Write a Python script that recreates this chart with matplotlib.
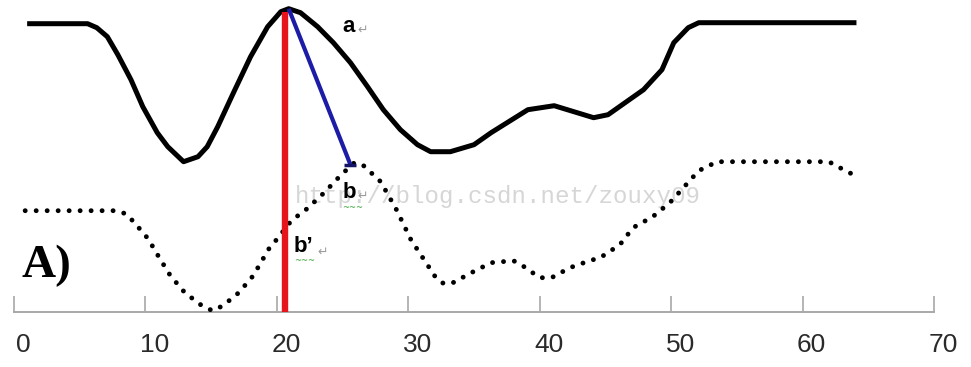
import matplotlib
matplotlib.use('Agg')
import matplotlib.pyplot as plt
import matplotlib.transforms as mtransforms

# solid curve (a)
solid_x = [1.0, 5.6, 6.3, 7.1, 7.9, 8.9, 9.8, 10.9, 11.7, 12.9, 14.0, 14.7, 15.5, 16.7,
           18.0, 19.3, 20.3, 20.9, 21.8, 23.1, 24.3, 25.6, 26.9, 28.1, 29.4, 30.7, 31.7,
           33.2, 35.0, 36.3, 39.1, 41.1, 44.1, 45.2, 47.9, 49.3, 50.2, 51.3, 52.1, 64.1]
solid_y = [28.8, 28.8, 28.4, 27.5, 25.7, 23.2, 20.5, 17.9, 16.5, 15.0, 15.5, 16.5, 18.5, 21.9,
           25.5, 28.5, 30.0, 30.3, 29.9, 28.5, 26.9, 24.9, 22.5, 20.2, 18.2, 16.7, 16.0,
           16.0, 16.7, 17.9, 20.2, 20.6, 19.4, 19.7, 22.2, 24.2, 26.9, 28.4, 28.9, 28.9]

# dotted curve (b)
dot_x = [0.85, 7.7, 8.5, 9.1, 10.2, 11.1, 11.9, 13.0, 13.7, 14.3, 15.1, 15.9, 17.1, 18.2,
         19.4, 20.1, 21.1, 22.3, 23.6, 24.9, 25.9, 26.6, 27.9, 29.1, 30.2, 31.2, 32.1, 32.7,
         33.4, 34.8, 36.3, 38.0, 38.7, 40.0, 40.9, 42.3, 43.8, 44.6, 46.1, 47.1, 48.6, 49.9,
         51.0, 52.1, 53.5, 62.0, 63.4, 64.2]
dot_y = [10.1, 10.1, 9.8, 9.0, 7.3, 5.3, 3.6, 1.9, 1.2, 0.6, 0.1, 0.6, 1.9, 3.6,
         6.3, 7.4, 9.1, 10.3, 11.9, 13.7, 14.9, 14.6, 13.0, 10.2, 7.2, 5.2, 3.4, 2.8,
         2.9, 3.9, 4.9, 5.1, 4.6, 3.4, 3.4, 4.4, 5.1, 5.4, 6.7, 8.4, 9.5, 10.9,
         12.5, 14.1, 15.0, 15.0, 14.0, 13.5]

# vertical (red) and slanted (blue) connections
red_x = [20.6, 20.6]
red_y = [0.0, 30.0]
blue_x = [20.9, 25.6]
blue_y = [30.3, 14.7]

xticks = [0, 10, 20, 30, 40, 50, 60, 70]

fig = plt.figure(figsize=(9.71, 3.67), dpi=100)
ax = fig.add_axes([14 / 971, 1 - 311.7 / 367, 920 / 971, 311.7 / 367])
ax.set_xlim(0, 70)
ax.set_ylim(0, 31.17)

ax.plot(solid_x, solid_y, color='black', lw=3.6, solid_joinstyle='round',
        solid_capstyle='butt', clip_on=False, zorder=3)
ax.plot(dot_x, dot_y, color='black', lw=3.5, linestyle=(0, (0.01, 2.25)),
        dash_capstyle='round', clip_on=False, zorder=3)
ax.plot(red_x, red_y, color='#e8141b', lw=4.6, solid_capstyle='butt', zorder=4, clip_on=False)
ax.plot(blue_x, blue_y, color='#1c1ca6', lw=3.0, solid_capstyle='butt', zorder=5, clip_on=False)
ax.plot(blue_x[-1:], blue_y[-1:], marker='_', color='#141466', ms=9, mew=2.5, zorder=5)

# watermark
ax.text(21.4, 11.5, 'http://blog.csdn.net/zouxy09', family='Liberation Mono',
        fontsize=17.4, color='#d6d6d6', va='center', ha='left', zorder=1)

# labels
lab = dict(family='Liberation Sans', fontweight='bold', fontsize=16, va='center', zorder=6)
ax.text(25.0, 28.5, 'a', ha='left', **lab)
ax.text(25.0, 11.9, 'b', ha='left', **lab)
ax.text(21.3, 6.5, 'b’', ha='left', **lab)
ret = dict(family='DejaVu Sans', fontsize=9, color='#9a9a9a', va='center', ha='left', zorder=6)
ax.text(26.15, 28.2, '↵', **ret)
ax.text(26.15, 11.6, '↵', **ret)
ax.text(23.1, 6.0, '↵', **ret)
wav = dict(family='DejaVu Sans', fontsize=6, color='#3fa63f', va='center', ha='left', zorder=6)
ax.text(25.0, 10.4, '~~~', **wav)
ax.text(21.3, 5.1, '~~~', **wav)
ax.text(0.6, 4.6, 'A)', family='Liberation Serif', fontweight='bold', fontsize=34,
        va='center', ha='left', zorder=6)

for s in ['top', 'left', 'right']:
    ax.spines[s].set_visible(False)
ax.spines['bottom'].set_color('#a8a8a8')
ax.spines['bottom'].set_linewidth(1.4)
ax.set_yticks([])
ax.set_xticks(xticks)
ax.set_xticklabels([str(t) for t in xticks], family='Liberation Sans', fontsize=19,
                   color='#2a2a2a')
ax.tick_params(axis='x', direction='in', length=11.5, width=1.2, color='#a8a8a8', pad=15)
offset = mtransforms.ScaledTranslation(9 / 100, 0, fig.dpi_scale_trans)
for lbl in ax.get_xticklabels():
    lbl.set_transform(lbl.get_transform() + offset)

fig.savefig('out.png', dpi=100)
